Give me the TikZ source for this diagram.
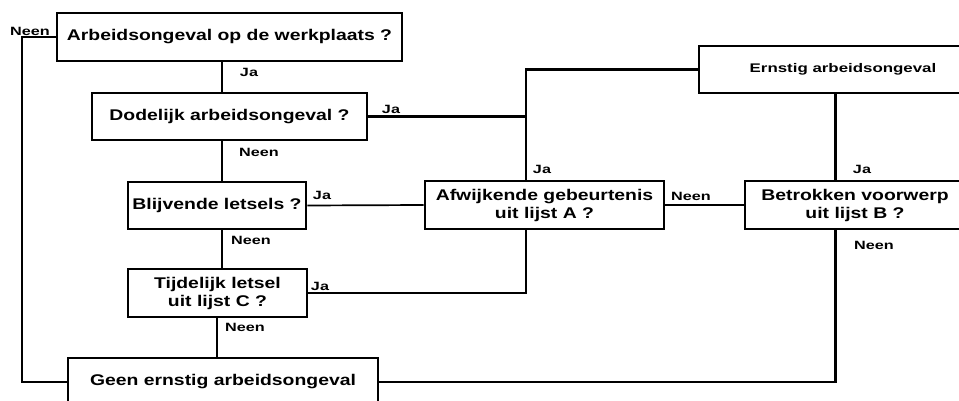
\documentclass[tikz,border=0pt]{standalone}
\usepackage{fontspec}
\setmainfont{Liberation Sans}
\newfontfamily\boxfont[FakeStretch=1.25]{Liberation Sans}
\newfontfamily\lblfont[FakeStretch=1.35]{Liberation Sans}
\begin{document}
\begin{tikzpicture}[x=1pt,y=-1pt,
  box/.style={draw, line width=2.6pt, rectangle, inner sep=0pt, align=center,
    font=\boxfont\bfseries\fontsize{15.5}{18}\selectfont},
  conn/.style={line width=2.4pt},
  thinconn/.style={line width=1.7pt},
  lbl/.style={font=\lblfont\bfseries\fontsize{12}{14}\selectfont, inner sep=0pt}]
\useasboundingbox (0,0) rectangle (959,401);
% boxes
\node[box, minimum width=345pt, minimum height=48pt] (q1) at (229.5,37) {Arbeidsongeval op de werkplaats ?};
\node[box, minimum width=275pt, minimum height=47pt] (q2) at (229.5,116.5) {Dodelijk arbeidsongeval ?};
\node[box, minimum width=178pt, minimum height=47pt] (q3) at (217,205.5) {Blijvende letsels ?};
\node[box, minimum width=179pt, minimum height=48pt] (q4) at (217.5,293) {Tijdelijk letsel\\uit lijst C ?};
\node[box, minimum width=310pt, minimum height=48pt] (geen) at (223,382) {Geen ernstig arbeidsongeval};
\node[box, minimum width=288pt, minimum height=47pt, font=\lblfont\bfseries\fontsize{12.5}{14}\selectfont] (ernstig) at (843,69.5) {Ernstig arbeidsongeval};
\node[box, minimum width=239pt, minimum height=48pt] (afw) at (544.5,205) {Afwijkende gebeurtenis\\uit lijst A ?};
\node[box, minimum width=220pt, minimum height=48pt] (betr) at (855,205) {Betrokken voorwerp\\uit lijst B ?};
% helper columns
\coordinate (cN) at (22,0);
\coordinate (cL) at (222,0);
\coordinate (cL2) at (217,0);
\coordinate (cA) at (526,0);
\coordinate (cB) at (835.5,0);
% connectors
\draw[conn] (q1.west) -- (q1.west -| cN) -- (geen.west -| cN) -- (geen.west);
\draw[conn] (q1.south -| cL) -- (q2.north -| cL);
\draw[conn] (q2.south -| cL) -- (q3.north -| cL);
\draw[conn] (q3.south -| cL) -- (q4.north -| cL);
\draw[conn] (q4.south -| cL2) -- (geen.north -| cL2);
\draw[conn] (q2.east) -- (q2.east -| cA);
\draw[conn] (ernstig.west) -- (ernstig.west -| cA) -- (afw.north -| cA);
\draw[thinconn] (q3.east) -- (afw.west);
\draw[conn] (q4.east) -- (q4.east -| cA) -- (afw.south -| cA);
\draw[thinconn] (afw.east) -- (betr.west);
\draw[conn] (ernstig.south -| cB) -- (betr.north -| cB);
\draw[conn] (betr.south -| cB) -- (geen.east -| cB) -- (geen.east);
% labels
\node[lbl] (n0) at (30,31) {Neen};
\node[lbl] (j1) at (249,72) {Ja};
\node[lbl] (j2) at (391,109) {Ja};
\node[lbl] (n2) at (259,152) {Neen};
\node[lbl] (j3) at (322,195) {Ja};
\node[lbl] (j4) at (542,169) {Ja};
\node[lbl] (j5) at (862,169) {Ja};
\node[lbl] (n3) at (691,196) {Neen};
\node[lbl] (n4) at (251,240) {Neen};
\node[lbl] (j6) at (320,286) {Ja};
\node[lbl] (n5) at (245,327) {Neen};
\node[lbl] (n6) at (874,245) {Neen};
\end{tikzpicture}
\end{document}
